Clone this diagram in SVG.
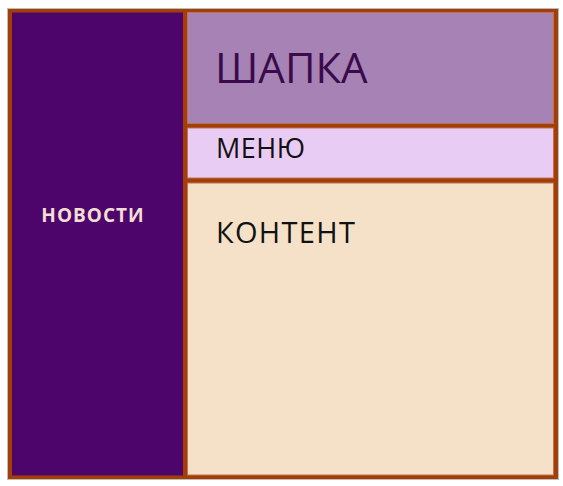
<svg xmlns="http://www.w3.org/2000/svg" width="563" height="486" viewBox="0 0 563 486">
<style>
.frame{fill:#A33E05;stroke:#BDBDBD;stroke-width:1}
.cell{stroke:#C0705A;stroke-width:1}
.t{font-family:"Open Sans","Liberation Sans",sans-serif}
</style>
<rect width="563" height="486" fill="#FFFFFF"/>
<g id="frame"><rect class="frame" x="7.5" y="8.5" width="551" height="471"/></g>
<g id="news">
<rect x="12" y="12.5" width="171" height="463" fill="#4E056B"/>
<text class="t" x="93" y="222" font-size="19" font-weight="bold" letter-spacing="1" fill="#F0DFD2" text-anchor="middle">НОВОСТИ</text>
</g>
<g id="header">
<rect class="cell" x="187.5" y="12.5" width="366" height="111" fill="#A682B5"/>
<text class="t" x="215" y="83" font-size="42" fill="#3A0A4A">ШАПКА</text>
</g>
<g id="menu">
<rect class="cell" x="187.5" y="128" width="366" height="50" fill="#E8CCF3"/>
<text class="t" x="216" y="158" font-size="27" letter-spacing="0.5" fill="#111111">МЕНЮ</text>
</g>
<g id="content">
<rect class="cell" x="187.5" y="183" width="366" height="292" fill="#F4E1C8"/>
<text class="t" x="216" y="243" font-size="29" letter-spacing="1.3" fill="#111111">КОНТЕНТ</text>
</g>
<g id="connectors"/>
</svg>
